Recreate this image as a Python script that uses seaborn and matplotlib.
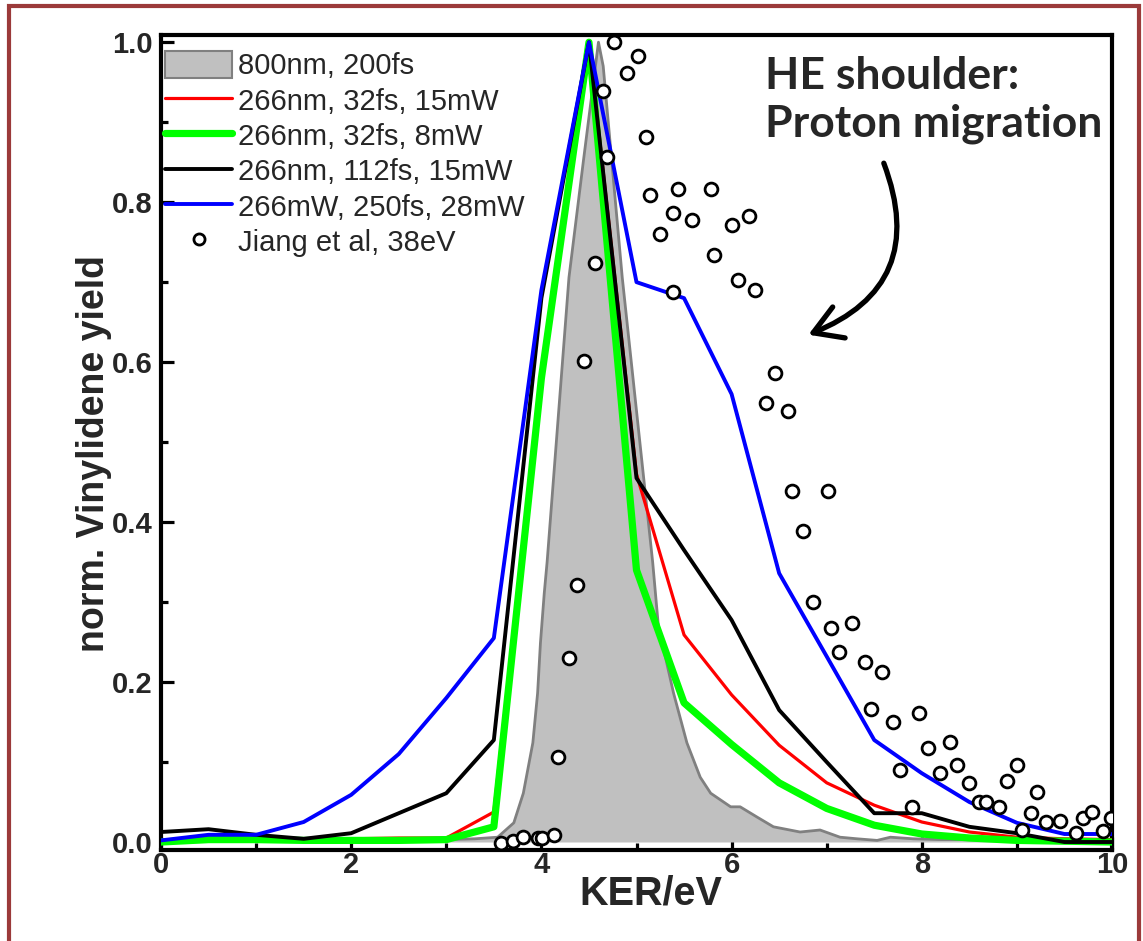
import numpy as np
import pandas as pd
import matplotlib
matplotlib.use("Agg")
import matplotlib.pyplot as plt
import seaborn as sns
from matplotlib.patches import Rectangle, Patch
from matplotlib.lines import Line2D
from matplotlib.ticker import MultipleLocator, FormatStrFormatter

sns.set_style("ticks")
plt.rcParams['font.family'] = ['Liberation Sans', 'DejaVu Sans']

# ---------------- data ----------------
ker = [0.0, 0.5, 1.0, 1.5, 2.0, 2.5, 3.0, 3.5, 4.0, 4.5, 5.0, 5.5, 6.0, 6.5,
       7.0, 7.5, 8.0, 8.5, 9.0, 9.5, 10.0]
red_15mW = [0.0, 0.002, 0.002, 0.002, 0.004, 0.005, 0.005, 0.0375, 0.58, 1.0, 0.46,
            0.259, 0.184, 0.121, 0.074, 0.046, 0.025, 0.0125, 0.006, 0.004, 0.003]
green_8mW = [0.0, 0.003, 0.003, 0.002, 0.002, 0.002, 0.003, 0.019, 0.58, 1.0, 0.34,
             0.174, 0.122, 0.074, 0.042, 0.021, 0.010, 0.005, 0.002, 0.001, 0.0]
black_112fs = [0.0125, 0.016, 0.009, 0.004, 0.011, 0.036, 0.061, 0.1275, 0.68, 1.0,
               0.455, 0.365, 0.2775, 0.165, 0.10, 0.036, 0.036, 0.019, 0.011, 0.0, 0.0]
blue_250fs = [0.002, 0.009, 0.009, 0.025, 0.059, 0.11, 0.18, 0.255, 0.69, 1.0, 0.70,
              0.68, 0.56, 0.336, 0.232, 0.1275, 0.086, 0.05, 0.024, 0.01, 0.01]

gray_x = [0.0, 1.0, 2.0, 3.0, 3.3, 3.54, 3.71, 3.81, 3.91, 3.96, 3.99, 4.03, 4.06,
          4.29, 4.44, 4.6, 4.65, 4.85, 5.17, 5.23, 5.39, 5.53, 5.67, 5.78, 5.99,
          6.09, 6.27, 6.44, 6.72, 6.93, 7.14, 7.32, 7.53, 7.67, 7.91, 8.2, 8.5,
          9.0, 9.5, 10.0]
gray_y = [0.0, 0.001, 0.002, 0.003, 0.004, 0.006, 0.024, 0.061, 0.124, 0.186, 0.249,
          0.311, 0.35, 0.706, 0.85, 1.0, 0.97, 0.706, 0.35, 0.27, 0.186, 0.124,
          0.081, 0.061, 0.044, 0.044, 0.031, 0.019, 0.0125, 0.015, 0.006, 0.004,
          0.002, 0.006, 0.004, 0.003, 0.003, 0.002, 0.001, 0.0]

jiang_x = [3.58, 3.70, 3.81, 3.96, 4.01, 4.13, 4.17, 4.29, 4.37, 4.45, 4.56, 4.65,
           4.69, 4.76, 4.9, 5.02, 5.1, 5.14, 5.25, 5.38, 5.38, 5.44, 5.58, 5.78,
           5.82, 6.0, 6.07, 6.18, 6.25, 6.36, 6.46, 6.59, 6.64, 6.75, 6.86, 7.01,
           7.05, 7.13, 7.27, 7.4, 7.47, 7.58, 7.7, 7.77, 7.9, 7.97, 8.07, 8.19,
           8.3, 8.37, 8.5, 8.6, 8.68, 8.81, 8.9, 9.0, 9.05, 9.15, 9.21, 9.31,
           9.45, 9.62, 9.7, 9.79, 9.91, 9.99]
jiang_y = [-0.001, 0.001, 0.006, 0.005, 0.005, 0.009, 0.106, 0.23, 0.321, 0.601,
           0.724, 0.939, 0.856, 1.0, 0.961, 0.9825, 0.881, 0.809, 0.76, 0.786,
           0.6875, 0.816, 0.7775, 0.816, 0.734, 0.771, 0.7025, 0.7825, 0.69, 0.549,
           0.586, 0.539, 0.439, 0.389, 0.30, 0.439, 0.2675, 0.2375, 0.274, 0.225,
           0.166, 0.2125, 0.15, 0.09, 0.044, 0.161, 0.1175, 0.086, 0.125, 0.096,
           0.074, 0.05, 0.05, 0.044, 0.076, 0.096, 0.015, 0.036, 0.0625, 0.025,
           0.026, 0.011, 0.03, 0.0375, 0.014, 0.03]

labels = ["800nm, 200fs", "266nm, 32fs, 15mW", "266nm, 32fs, 8mW",
          "266nm, 112fs, 15mW", "266mW, 250fs, 28mW", "Jiang et al, 38eV"]

# ---------------- figure ----------------
W, H = 1143, 941
fig = plt.figure(figsize=(W / 100, H / 100), dpi=100)
ax = fig.add_axes([161 / W, 1 - 850 / H, (1112 - 161) / W, (850 - 35) / H])

# frame around the figure
fig.patches.append(Rectangle((9 / W, -0.05), (1139 - 9) / W, 1.05 - 6 / H,
                             transform=fig.transFigure, fill=False,
                             edgecolor='#9b3a3a', lw=3.0, zorder=0))

ax.fill_between(gray_x, gray_y, 0, color='#c0c0c0', lw=0, zorder=1)
sns.lineplot(x=gray_x, y=gray_y, color='#808080', lw=2.0, ax=ax,
             estimator=None, sort=False, zorder=2)

sns.lineplot(x=ker, y=red_15mW, color='#ff0000', lw=2.3, ax=ax, estimator=None, zorder=3)
sns.lineplot(x=ker, y=green_8mW, color='#00ff00', lw=5.2, ax=ax, estimator=None, zorder=4)
sns.lineplot(x=ker, y=black_112fs, color='black', lw=2.8, ax=ax, estimator=None, zorder=5)
sns.lineplot(x=ker, y=blue_250fs, color='#0000ff', lw=2.8, ax=ax, estimator=None, zorder=6)
sns.scatterplot(x=jiang_x, y=jiang_y, marker='o', s=85, color='white',
                edgecolor='black', linewidth=2.0, ax=ax, zorder=7)

ax.set_xlim(0, 10)
ax.set_ylim(-0.01, 1.009)
ax.xaxis.set_major_locator(MultipleLocator(2))
ax.xaxis.set_minor_locator(MultipleLocator(1))
ax.yaxis.set_major_locator(MultipleLocator(0.2))
ax.yaxis.set_minor_locator(MultipleLocator(0.1))
ax.yaxis.set_major_formatter(FormatStrFormatter('%.1f'))
ax.tick_params(which='both', direction='in', top=False, right=False,
               width=2.3, labelsize=21, color='black')
ax.tick_params(which='major', length=9.5)
ax.tick_params(which='minor', length=5)
ax.tick_params(axis='x', which='major', pad=1)
ax.tick_params(axis='y', which='major', pad=6)
for lab in ax.get_xticklabels() + ax.get_yticklabels():
    lab.set_fontweight('bold')
for sp in ax.spines.values():
    sp.set_linewidth(3.0)
    sp.set_color('black')

ax.set_xlabel("KER/eV", fontsize=28.5, fontweight='bold')
ax.set_ylabel("norm. Vinylidene yield", fontsize=27, fontweight='bold')
ax.xaxis.set_label_coords(0.515, -0.03)
ax.yaxis.set_label_coords(-0.052, 0.487)

handles = [Patch(facecolor='#c0c0c0', edgecolor='#808080', lw=1.5),
           Line2D([], [], color='#ff0000', lw=2.3),
           Line2D([], [], color='#00ff00', lw=5.2),
           Line2D([], [], color='black', lw=2.8),
           Line2D([], [], color='#0000ff', lw=2.8),
           Line2D([], [], marker='o', ls='none', mfc='white', mec='black', mew=2.0, ms=8)]
ax.legend(handles, labels, loc='upper left', bbox_to_anchor=(4 / 951, 1 - 16 / 815),
          frameon=False, fontsize=21, handlelength=2.3, handleheight=1.05,
          handletextpad=0.2, labelspacing=0.2, borderpad=0, borderaxespad=0)

ax.text((765 - 161) / 951, (850 - 56) / 815, "HE shoulder:\nProton migration",
        transform=ax.transAxes, ha='left', va='top', fontsize=32,
        fontweight='bold', family=['Lato', 'DejaVu Sans'], linespacing=1.22)

ax.annotate("", xy=(6.78, 0.633), xytext=(7.59, 0.852),
            arrowprops=dict(arrowstyle='->,head_length=1.0,head_width=0.6',
                            connectionstyle='arc3,rad=-0.5', lw=3.8,
                            color='black', mutation_scale=20), zorder=8)

fig.savefig("out.png", dpi=100)
